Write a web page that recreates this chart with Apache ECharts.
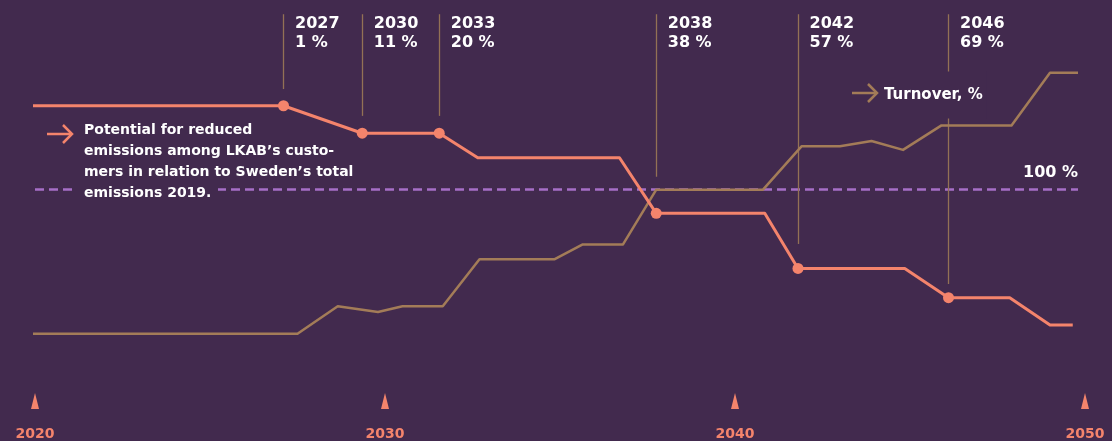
<!DOCTYPE html>
<html>
<head>
<meta charset="utf-8">
<script src="https://cdn.jsdelivr.net/npm/echarts@6/dist/echarts.min.js"></script>
<style>
  html, body { margin: 0; padding: 0; background: #422a4e; }
  #chart { width: 1112px; height: 441px; }
</style>
</head>
<body>
<div id="chart"></div>
<script>
// axis ticks
const tickYears = [2020, 2030, 2040, 2050]

// potential for reduced emissions (100 = Sweden's total emissions 2019)
const emissionYears = [2019.87, 2027.1, 2029.35, 2031.55, 2032.65, 2036.7, 2037.75, 2040.85, 2041.8, 2044.85, 2046.1, 2047.85, 2049.0, 2049.65]
const emissionValues = [139.7, 139.7, 126.7, 126.7, 115.1, 115.1, 88.8, 88.8, 62.7, 62.7, 48.9, 48.9, 36.0, 36.0]

// turnover, %
const turnoverYears = [2019.9, 2027.5, 2028.65, 2029.8, 2030.5, 2031.65, 2032.7, 2034.85, 2035.65, 2036.8, 2037.75, 2040.8, 2041.9, 2043.0, 2043.9, 2044.8, 2045.9, 2047.9, 2049.0, 2049.8]
const turnoverValues = [31.8, 31.8, 44.8, 42.1, 44.8, 44.8, 67.1, 67.1, 74.1, 74.1, 100, 100, 120.5, 120.5, 123.0, 118.8, 130.4, 130.4, 155.3, 155.3]

// milestones on the emission line
const milestoneIndex = [1, 2, 3, 6, 8, 10]
const milestoneLabels = ['2027', '2030', '2033', '2038', '2042', '2046']
const milestoneShares = ['1 %', '11 %', '20 %', '38 %', '57 %', '69 %']
const leaderTop = 183
const leaderBottom = [147.6, 134.9, 134.9, 106.1, 74.3, 55.4]

const baseline = 100

const bg = '#422a4e'
const salmon = '#f4846c'
const tan = '#a37c58'
const leader = '#937155'
const font = 'DejaVu Sans'

let chart = echarts.init(document.getElementById('chart'))

let emissionData = emissionYears.map((yr, i) => {
  let item = { value: [yr, emissionValues[i]] }
  if (milestoneIndex.indexOf(i) < 0) item.symbol = 'none'
  return item
})

let option = {
  backgroundColor: bg,
  animation: false,
  grid: {
    left: 35,
    right: 27,
    top: 10,
    bottom: 40,
  },
  xAxis: {
    type: 'value',
    min: 2020,
    max: 2050,
    interval: 10,
    axisLine: { show: false },
    axisTick: { show: false },
    splitLine: { show: false },
    axisLabel: {
      margin: 26,
      color: salmon,
      fontFamily: font,
      fontWeight: 'bold',
      fontSize: 14,
      formatter: (v) => String(v),
    },
  },
  yAxis: {
    type: 'value',
    min: 0,
    max: 185,
    show: false,
  },
  series: [
    {
      // ticks along the bottom, also carries the 100 % reference line
      name: 'ticks',
      type: 'scatter',
      clip: false,
      silent: true,
      z: 1,
      symbol: 'triangle',
      symbolSize: [8, 16],
      itemStyle: { color: salmon, opacity: 1 },
      data: tickYears.map((yr) => [yr, 0]),
      markLine: {
        silent: true,
        symbol: 'none',
        z: 1,
        lineStyle: { color: '#a66fc7', width: 2.5, type: [9, 5] },
        label: {
          show: true,
          position: 'insideEndTop',
          distance: [0, 9],
          formatter: baseline + ' %',
          color: '#ffffff',
          fontFamily: font,
          fontWeight: 'bold',
          fontSize: 16,
        },
        data: [[
          { coord: [tickYears[0], baseline] },
          { coord: [turnoverYears[turnoverYears.length - 1], baseline] },
        ]],
      },
    },
    {
      name: 'Turnover, %',
      type: 'line',
      clip: false,
      symbol: 'none',
      z: 5,
      lineStyle: { color: tan, width: 2.5, join: 'round' },
      data: turnoverYears.map((yr, i) => [yr, turnoverValues[i]]),
    },
    {
      name: 'Potential for reduced emissions',
      type: 'line',
      clip: false,
      symbol: 'circle',
      symbolSize: 11,
      z: 6,
      itemStyle: { color: salmon },
      lineStyle: { color: salmon, width: 3, join: 'round' },
      data: emissionData,
      markLine: {
        silent: true,
        symbol: 'none',
        z: 2,
        lineStyle: { color: leader, width: 1.3, type: 'solid' },
        label: { show: false },
        data: milestoneIndex.map((idx, i) => [
          { coord: [emissionYears[idx], leaderTop] },
          { coord: [emissionYears[idx], leaderBottom[i]] },
        ]),
      },
      markPoint: {
        silent: true,
        symbol: 'rect',
        symbolSize: 1,
        itemStyle: { color: 'transparent' },
        label: {
          show: true,
          position: [12, 1],
          align: 'left',
          verticalAlign: 'top',
          color: '#ffffff',
          fontFamily: font,
          fontWeight: 'bold',
          fontSize: 16,
          lineHeight: 19,
        },
        data: milestoneIndex.map((idx, i) => ({
          coord: [emissionYears[idx], leaderTop],
          label: { formatter: milestoneLabels[i] + '\n' + milestoneShares[i] },
        })),
      },
    },
  ],
  graphic: [
    // emission arrow + note
    {
      type: 'polyline',
      z: 100,
      shape: { points: [[47, 134], [72, 134]] },
      style: { stroke: salmon, lineWidth: 2.5, fill: null },
    },
    {
      type: 'polyline',
      z: 100,
      shape: { points: [[63, 125], [72, 134], [63, 143]] },
      style: { stroke: salmon, lineWidth: 2.5, fill: null },
    },
    {
      type: 'rect',
      z: 99,
      shape: { x: 73, y: 182, width: 145, height: 16 },
      style: { fill: bg },
    },
    {
      type: 'text',
      z: 100,
      x: 84,
      y: 120,
      style: {
        text: 'Potential for reduced\nemissions among LKAB’s custo-\nmers in relation to Sweden’s total\nemissions 2019.',
        fill: '#ffffff',
        font: 'bold 14px "DejaVu Sans"',
        lineHeight: 21,
        verticalAlign: 'top',
      },
    },
    // turnover arrow + label
    {
      type: 'polyline',
      z: 100,
      shape: { points: [[852, 93], [877, 93]] },
      style: { stroke: tan, lineWidth: 2.5, fill: null },
    },
    {
      type: 'polyline',
      z: 100,
      shape: { points: [[868, 84], [877, 93], [868, 102]] },
      style: { stroke: tan, lineWidth: 2.5, fill: null },
    },
    {
      type: 'text',
      z: 100,
      x: 880,
      y: 95,
      style: {
        text: 'Turnover, %',
        fill: '#ffffff',
        font: 'bold 15px "DejaVu Sans"',
        verticalAlign: 'middle',
        backgroundColor: bg,
        padding: [16, 4, 16, 4],
      },
    },
  ],
}

chart.setOption(option)
</script>
</body>
</html>
